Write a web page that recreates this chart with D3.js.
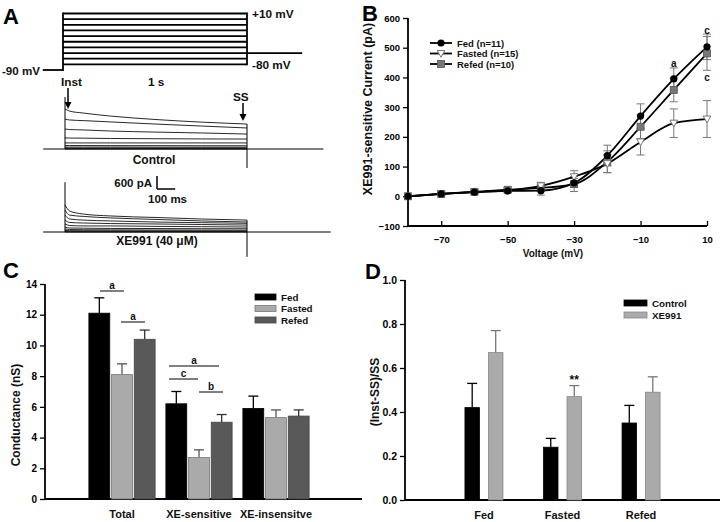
<!DOCTYPE html>
<html><head><meta charset="utf-8">
<script src="https://cdn.jsdelivr.net/npm/d3@7"></script>
<style>body{margin:0;background:#fff}svg{display:block}</style>
</head><body>
<script>
// ---------------- DATA ----------------
// Panel A: protocol
const protoSteps = [10, 0, -10, -20, -30, -40, -50, -60, -70, -80];
const protoHold = -90, protoAfter = -60;
// Panel A: current traces (pA) at these times (ms)
const traceTimes = [0, 25, 100, 250, 500, 750, 1000];
const controlTraces = [
  [1850, 1750, 1660, 1520, 1360, 1240, 1150],
  [1380, 1340, 1310, 1250, 1150, 1060, 970],
  [920, 900, 880, 830, 780, 740, 690],
  [510, 505, 500, 485, 475, 465, 460],
  [280, 280, 280, 280, 280, 280, 280],
  [160, 160, 160, 155, 155, 150, 150],
  [90, 90, 90, 90, 85, 85, 85],
  [45, 45, 45, 45, 45, 45, 45],
  [20, 20, 20, 20, 20, 20, 20],
  [0, 0, 0, 0, 0, 0, 0]
];
const xeTraces = [
  [1250, 970, 830, 740, 670, 600, 550],
  [1010, 780, 720, 650, 580, 510, 460],
  [780, 600, 550, 510, 460, 430, 400],
  [550, 440, 415, 390, 370, 345, 320],
  [370, 300, 280, 280, 260, 245, 230],
  [230, 185, 175, 165, 160, 152, 150],
  [140, 115, 105, 100, 92, 88, 85],
  [70, 60, 55, 52, 50, 47, 45],
  [35, 30, 28, 27, 26, 25, 25],
  [0, 0, 0, 0, 0, 0, 0]
];
const spikeControl = 2400, spikeXE = 2300, tailControl = -880, tailXE = -1150;

// Panel B: I-V
const voltages = [-80, -70, -60, -50, -40, -30, -20, -10, 0, 10];
const fedIV = [0, 8, 14, 18, 19, 45, 137, 270, 395, 503];
const fedIVerr = [2, 4, 4, 5, 15, 15, 35, 41, 37, 43];
const fastedIV = [0, 8, 14, 20, 35, 66, 110, 183, 246, 260];
const fastedIVerr = [2, 4, 4, 5, 12, 20, 30, 44, 48, 62];
const refedIV = [0, 8, 15, 22, 28, 41, 116, 234, 358, 481];
const refedIVerr = [2, 4, 4, 5, 12, 25, 37, 40, 40, 57];
const ivSeries = ["Fed (n=11)", "Fasted (n=15)", "Refed (n=10)"];
const ivTicksY = [-100, 0, 100, 200, 300, 400, 500, 600];
const ivTicksX = [-70, -50, -30, -10, 10];

// Panel C: conductance
const condCategories = ["Total", "XE-sensitive", "XE-insensitve"];
const condGroups = ["Fed", "Fasted", "Refed"];
const condFed = [12.1, 6.2, 5.9];
const condFedErr = [1.0, 0.8, 0.8];
const condFasted = [8.1, 2.7, 5.3];
const condFastedErr = [0.7, 0.5, 0.5];
const condRefed = [10.4, 5.0, 5.4];
const condRefedErr = [0.6, 0.5, 0.4];

// Panel D: (Inst-SS)/SS
const ratioCategories = ["Fed", "Fasted", "Refed"];
const ratioGroups = ["Control", "XE991"];
const ratioControl = [0.42, 0.24, 0.35];
const ratioControlErr = [0.11, 0.04, 0.08];
const ratioXE = [0.67, 0.47, 0.49];
const ratioXEErr = [0.10, 0.05, 0.07];

// ---------------- DRAW ----------------
const FONT = "'Liberation Sans', Arial, Helvetica, sans-serif";
const svg = d3.select("body").append("svg")
  .attr("width", 720).attr("height", 522)
  .style("font-family", FONT).style("font-weight", "bold");

function txt(x, y, s, size, anchor, g) {
  return (g || svg).append("text").attr("x", x).attr("y", y)
    .attr("font-size", size).attr("text-anchor", anchor || "start")
    .attr("dominant-baseline", "central").attr("fill", "#111").text(s);
}

// Panel letters
[["A", 3, 16], ["B", 362, 13], ["C", 3, 270], ["D", 365, 271]].forEach(d => {
  svg.append("text").attr("x", d[1]).attr("y", d[2]).attr("font-size", 22)
    .attr("dominant-baseline", "central").attr("fill", "#000").text(d[0]);
});

// ===== Panel A =====
const gA = svg.append("g");
const tP = d3.scaleLinear([0, 1000], [63, 247]);
const vP = d3.scaleLinear([-90, 10], [70, 13.5]);
function ln(g, x1, y1, x2, y2, w, c) {
  return g.append("line").attr("x1", x1).attr("y1", y1).attr("x2", x2).attr("y2", y2)
    .attr("stroke", c || "#000").attr("stroke-width", w);
}
ln(gA, tP(-110), vP(protoHold), tP(0), vP(protoHold), 1.8);
ln(gA, tP(0), vP(protoHold) + 0.9, tP(0), vP(d3.max(protoSteps)) - 0.9, 1.8);
protoSteps.forEach(v => ln(gA, tP(0), vP(v), tP(1000), vP(v), 1.8));
ln(gA, tP(1000), vP(d3.max(protoSteps)) - 0.9, tP(1000), vP(d3.min(protoSteps)) + 0.9, 1.8);
ln(gA, tP(1000), vP(protoAfter), tP(1300), vP(protoAfter), 1.8);
txt(252, vP(10), "+10 mV", 11.8);
txt(252, vP(-80) + 1, "-80 mV", 11.8);
txt(2, vP(-90), "-90 mV", 11.6);
txt(148, 82, "1 s", 11.8);
txt(61, 82, "Inst", 11.8);
txt(233, 97, "SS", 11.8);

// arrows
function arrow(x, y1, y2) {
  ln(gA, x, y1, x, y2 - 5, 1.5);
  gA.append("path").attr("d", `M${x - 3.5},${y2 - 7}L${x + 3.5},${y2 - 7}L${x},${y2}Z`).attr("fill", "#000");
}
arrow(68, 88, 109);
arrow(243, 103, 121);

const tT = d3.scaleLinear([0, 1000], [65, 247]);
function drawTraces(traces, yS, spike, tail, tEnd, label, labelY, labelX) {
  const g = svg.append("g");
  ln(g, tT(-120), yS(0), tT(tEnd), yS(0), 1.1);
  const line = d3.line().x((d, i) => tT(traceTimes[i])).y(d => yS(d)).curve(d3.curveMonotoneX);
  traces.forEach(tr => {
    g.append("path").attr("d", line(tr)).attr("fill", "none").attr("stroke", "#111").attr("stroke-width", 0.9);
  });
  ln(g, tT(0), yS(0), tT(0), yS(spike), 1);
  ln(g, tT(1000), yS(traces[0][traces[0].length - 1]), tT(1000), yS(tail), 1);
  txt(labelX, labelY, label, 12, "middle");
}
const yCtl = d3.scaleLinear([0, 600], [149, 136]);
const yXE = d3.scaleLinear([0, 600], [232, 219]);
drawTraces(controlTraces, yCtl, spikeControl, tailControl, 1420, "Control", 160, 154);
drawTraces(xeTraces, yXE, spikeXE, tailXE, 1460, "XE991 (40 \u03BCM)", 241, 157);
// scale bar
const sbx = 157, sby = 189;
ln(svg, sbx, sby, sbx, sby - (yCtl(0) - yCtl(600)), 1.5);
ln(svg, sbx, sby, sbx + (tT(100) - tT(0)), sby, 1.5);
txt(152, 183, "600 pA", 11.5, "end");
txt(148, 199, "100 ms", 11.5);

// ===== Panel B =====
const gB = svg.append("g");
const xB = d3.scaleLinear([-80, 10], [408, 707]);
const yB = d3.scaleLinear([-100, 600], [226, 18]);
gB.append("g").attr("transform", "translate(408,0)")
  .call(d3.axisLeft(yB).tickValues(ivTicksY).tickSize(5).tickPadding(3))
  .call(g => { g.select(".domain").attr("stroke-width", 1.8).attr("d", `M0,${yB(600)}V${yB(-100)}`); g.selectAll(".tick line").attr("stroke-width", 1.3); g.selectAll("text").attr("font-size", 9.5).attr("font-family", FONT).attr("font-weight", "bold"); });
gB.append("g").attr("transform", `translate(0,${yB(-100)})`)
  .call(d3.axisBottom(xB).tickValues(ivTicksX).tickSize(-5).tickPadding(10))
  .call(g => { g.select(".domain").attr("stroke-width", 1.8).attr("d", `M${xB(-80)},0H${xB(10)}`); g.selectAll(".tick line").attr("stroke-width", 1.3); g.selectAll("text").attr("font-size", 9.5).attr("font-family", FONT).attr("font-weight", "bold"); });
txt(553, 253, "Voltage (mV)", 10, "middle", gB);
gB.append("text").attr("transform", "translate(368,109) rotate(-90)").attr("text-anchor", "middle")
  .attr("dominant-baseline", "central").attr("font-size", 12.5).attr("fill", "#111").text("XE991-sensitive Current (pA)");

const ivData = [
  {name: ivSeries[0], v: fedIV, e: fedIVerr, sym: "circle"},
  {name: ivSeries[1], v: fastedIV, e: fastedIVerr, sym: "tri"},
  {name: ivSeries[2], v: refedIV, e: refedIVerr, sym: "square"}
];
function marker(g, sym, x, y) {
  if (sym === "circle") g.append("circle").attr("cx", x).attr("cy", y).attr("r", 3.6).attr("fill", "#000");
  else if (sym === "square") g.append("rect").attr("x", x - 3.5).attr("y", y - 3.5).attr("width", 7).attr("height", 7).attr("fill", "#777").attr("stroke", "#555").attr("stroke-width", 0.8);
  else g.append("path").attr("d", `M${x - 3.8},${y - 3}L${x + 3.8},${y - 3}L${x},${y + 3.8}Z`).attr("fill", "#fff").attr("stroke", "#777").attr("stroke-width", 1);
}
// error bars
ivData.slice().reverse().forEach(s => {
  s.v.forEach((v, i) => {
    const x = xB(voltages[i]);
    const e = s.e[i];
    ln(gB, x, yB(v - e), x, yB(v + e), 1, "#777");
    ln(gB, x - 4, yB(v - e), x + 4, yB(v - e), 1, "#777");
    ln(gB, x - 4, yB(v + e), x + 4, yB(v + e), 1, "#777");
  });
});
const ivLine = d3.line().x((d, i) => xB(voltages[i])).y(d => yB(d)).curve(d3.curveMonotoneX);
ivData.forEach(s => gB.append("path").attr("d", ivLine(s.v)).attr("fill", "none").attr("stroke", "#000").attr("stroke-width", 1.8));
ivData.slice().reverse().forEach(s => s.v.forEach((v, i) => marker(gB, s.sym, xB(voltages[i]), yB(v))));
// legend
[43, 53.5, 64].forEach((y, i) => {
  ln(gB, 430, y, 452, y, 1.8);
  marker(gB, ivData[i].sym, 441, y);
  txt(457, y, ivData[i].name, 9.5, "start", gB);
});
txt(xB(0), 63, "a", 10, "middle", gB);
txt(xB(10), 30, "c", 10, "middle", gB);
txt(xB(10), 77, "c", 10, "middle", gB);

// ===== Bar panel helper =====
function barPanel(cfg) {
  const g = svg.append("g");
  const x0 = d3.scaleBand().domain(cfg.cats).range([cfg.x0, cfg.x1]).paddingInner(cfg.pi).paddingOuter(cfg.po);
  const x1 = d3.scaleBand().domain(cfg.groups).range([0, x0.bandwidth()]).paddingInner(cfg.pi1);
  const y = d3.scaleLinear(cfg.domain, [cfg.yb, cfg.yt]);
  g.append("g").attr("transform", `translate(${cfg.x0},0)`)
    .call(d3.axisLeft(y).tickValues(cfg.ticks).tickFormat(cfg.fmt).tickSize(5).tickPadding(3))
    .call(a => { a.select(".domain").attr("stroke-width", 1.8).attr("d", `M0,${cfg.yt}V${cfg.yb}`); a.selectAll(".tick line").attr("stroke-width", 1.3); a.selectAll("text").attr("font-size", cfg.tickSize).attr("font-family", FONT).attr("font-weight", "bold"); });
  ln(g, cfg.x0, cfg.yb, cfg.axisEnd, cfg.yb, 1.8);
  cfg.cats.forEach((c, ci) => {
    cfg.groups.forEach((gr, gi) => {
      const v = cfg.vals[gi][ci], e = cfg.errs[gi][ci];
      const bx = x0(c) + x1(gr), bw = x1.bandwidth();
      const cx = bx + bw / 2;
      ln(g, cx, y(v), cx, y(v + e), 1.3, cfg.errColors[gi]);
      ln(g, cx - 5, y(v + e), cx + 5, y(v + e), 1.3, cfg.errColors[gi]);
      g.append("rect").attr("x", bx).attr("y", y(v)).attr("width", bw).attr("height", y(0) - y(v))
        .attr("fill", cfg.colors[gi]).attr("stroke", cfg.strokes[gi]).attr("stroke-width", 0.8);
    });
    txt(x0(c) + x0.bandwidth() / 2, cfg.catY, c, 11, "middle", g);
  });
  g.append("text").attr("transform", `translate(${cfg.titleX},${cfg.titleY}) rotate(-90)`).attr("text-anchor", "middle")
    .attr("dominant-baseline", "central").attr("font-size", 12).attr("fill", "#111").text(cfg.title);
  cfg.legendY.forEach((ly, i) => {
    g.append("rect").attr("x", cfg.legendX).attr("y", ly - 3).attr("width", cfg.legendW).attr("height", 6)
      .attr("fill", cfg.colors[i]).attr("stroke", cfg.strokes[i]).attr("stroke-width", 0.8);
    txt(cfg.legendX + cfg.legendW + 5, ly, cfg.groups[i], 9.8, "start", g);
  });
  return {g, x0, x1, y};
}

// ===== Panel C =====
const C = barPanel({
  cats: condCategories, groups: condGroups, x0: 45, x1: 353, pi: 0.14, po: 0.57, pi1: 0.08,
  domain: [0, 14], yb: 499, yt: 284, ticks: [0, 2, 4, 6, 8, 10, 12, 14], fmt: d3.format("d"),
  tickSize: 10,
  axisEnd: 362, vals: [condFed, condFasted, condRefed], errs: [condFedErr, condFastedErr, condRefedErr],
  colors: ["#000", "#aaa", "#595959"], strokes: ["#000", "#777", "#444"], errColors: ["#000", "#555", "#333"],
  catY: 514, title: "Conductance (nS)", titleX: 16, titleY: 415,
  legendX: 255, legendW: 21, legendY: [297, 308.5, 320]
});
// significance lines
[[100, 124, 291, "a"], [121, 145, 322, "a"], [169, 219, 366, "a"], [169, 198, 379, "c"], [199, 223, 392, "b"]].forEach(s => {
  ln(C.g, s[0], s[2], s[1], s[2], 1);
  txt((s[0] + s[1]) / 2, s[2] - 6, s[3], 10, "middle", C.g);
});

// ===== Panel D =====
const D = barPanel({
  cats: ratioCategories, groups: ratioGroups, x0: 405, x1: 720, pi: 0.516, po: 0.763, pi1: 0.383,
  domain: [0, 1.0], yb: 500, yt: 280, ticks: [0, 0.2, 0.4, 0.6, 0.8, 1.0], fmt: d3.format(".1f"),
  tickSize: 10.5,
  axisEnd: 720, vals: [ratioControl, ratioXE], errs: [ratioControlErr, ratioXEErr],
  colors: ["#000", "#aaa"], strokes: ["#000", "#888"], errColors: ["#000", "#777"],
  catY: 515, title: "(Inst-SS)/SS", titleX: 375, titleY: 392,
  legendX: 624, legendW: 23, legendY: [303, 315]
});
txt(D.x0("Fasted") + D.x1("XE991") + D.x1.bandwidth() / 2, 380, "**", 12, "middle", D.g);
</script>
</body></html>
